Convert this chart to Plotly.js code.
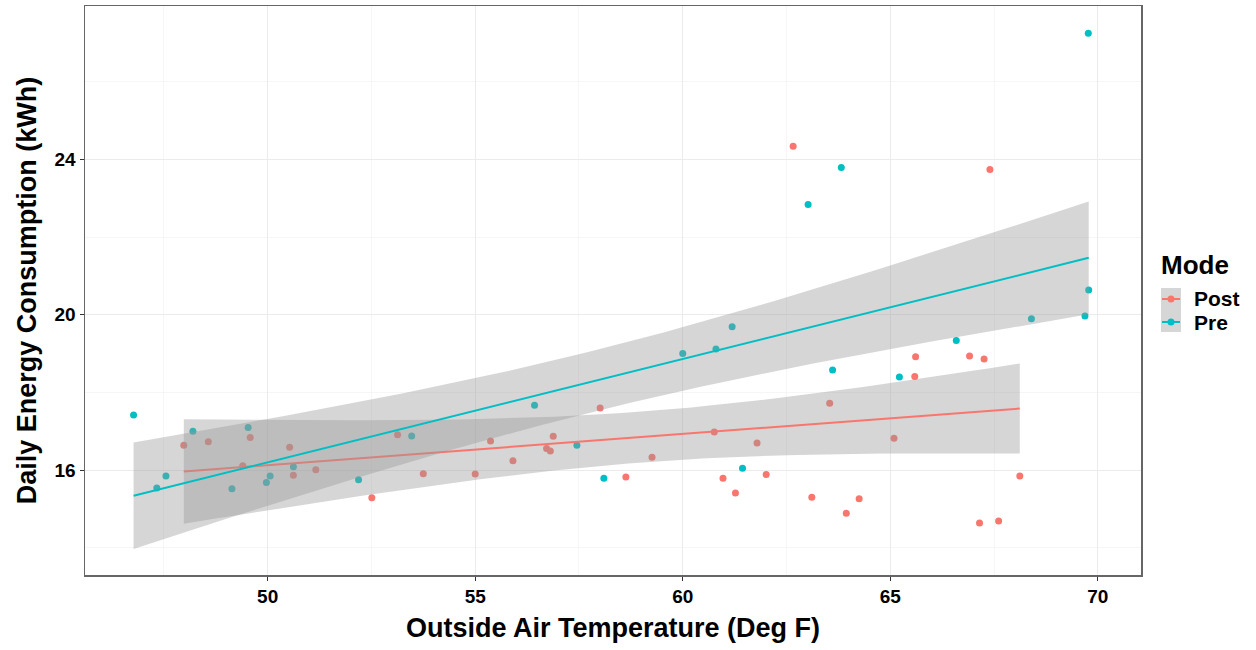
<!DOCTYPE html>
<html><head><meta charset="utf-8">
<script src="https://cdn.plot.ly/plotly-3.0.1.min.js"></script>
<style>html,body{margin:0;padding:0;background:#fff}#chart{width:1256px;height:650px}</style>
</head><body><div id="chart"></div>
<script>
// Post mode observations
const postTemp = [47.98,48.57,49.40,49.58,50.53,50.62,51.16,52.51,53.13,53.75,55.00,55.37,55.91,56.72,56.81,56.88,58.01,58.63,59.26,60.76,60.97,61.27,61.79,62.01,62.66,63.11,63.54,63.94,64.25,65.09,65.59,65.61,66.91,67.15,67.26,67.40,67.61,68.12];
const postKwh  = [16.64,16.73,16.11,16.84,16.59,15.87,16.01,15.29,16.91,15.91,15.90,16.75,16.24,16.56,16.49,16.87,17.60,15.82,16.33,16.98,15.79,15.41,16.70,15.89,24.34,15.30,17.72,14.89,15.26,16.82,18.41,18.92,18.94,14.64,18.86,23.74,14.69,15.85];
// Pre mode observations
const preTemp = [46.77,47.33,47.55,48.20,49.14,49.53,49.97,50.06,50.62,52.19,53.47,56.43,57.45,58.10,60.00,60.80,61.19,61.44,63.02,63.61,63.82,65.22,66.59,68.40,69.69,69.78,69.77];
const preKwh  = [17.42,15.54,15.85,17.00,15.52,17.10,15.68,15.85,16.09,15.75,16.88,17.67,16.64,15.79,19.00,19.12,19.69,16.05,22.84,18.58,23.79,18.40,19.34,19.90,19.97,20.64,27.25];
const modes = ["Post","Pre"];
const xTickVals = [50,55,60,65,70];
const yTickVals = [16,20,24];

const COLORS = {Post:"#F8766D", Pre:"#00BFC4"};
const FONT = "Liberation Sans, Arial, sans-serif";

// linear model fit with 95% confidence band (like geom_smooth(method='lm'))
function lmFit(xs, ys, tcrit){
  const n = xs.length;
  const xm = xs.reduce((a,b)=>a+b,0)/n, ym = ys.reduce((a,b)=>a+b,0)/n;
  let sxx=0, sxy=0;
  for(let i=0;i<n;i++){sxx+=(xs[i]-xm)**2; sxy+=(xs[i]-xm)*(ys[i]-ym);}
  const b = sxy/sxx, a = ym - b*xm;
  let sse=0; for(let i=0;i<n;i++){sse+=(ys[i]-a-b*xs[i])**2;}
  const s = Math.sqrt(sse/(n-2));
  const lo = Math.min(...xs), hi = Math.max(...xs);
  const gx=[], fy=[], up=[], dn=[];
  const m=80;
  for(let k=0;k<m;k++){
    const x = lo + (hi-lo)*k/(m-1);
    const f = a+b*x;
    const se = s*Math.sqrt(1/n + (x-xm)**2/sxx);
    gx.push(x); fy.push(f); up.push(f+tcrit*se); dn.push(f-tcrit*se);
  }
  return {gx, fy, up, dn};
}
const tcrit = {Post:2.028, Pre:2.060};
const data = {Post:[postTemp, postKwh], Pre:[preTemp, preKwh]};

const traces = [];
modes.forEach(md=>{
  traces.push({type:"scatter", mode:"markers", x:data[md][0], y:data[md][1],
    marker:{color:COLORS[md], size:7, line:{width:0}}, showlegend:false, hoverinfo:"x+y"});
});
modes.forEach(md=>{
  const f = lmFit(data[md][0], data[md][1], tcrit[md]);
  traces.push({type:"scatter", mode:"lines", x:f.gx.concat(f.gx.slice().reverse()),
    y:f.up.concat(f.dn.slice().reverse()), fill:"toself", fillcolor:"rgba(153,153,153,0.4)",
    line:{width:0}, showlegend:false, hoverinfo:"skip"});
  traces.push({type:"scatter", mode:"lines", x:f.gx, y:f.fy, line:{color:COLORS[md], width:2},
    showlegend:false, hoverinfo:"skip"});
});

// plot area geometry in pixels
const L=85, R=1141, T=6, B=575;
const px = v => (v-L)/(R-L);
const py = v => (B-v)/(B-T);

const shapes = [
  {type:"rect", xref:"paper", yref:"paper", x0:px(1161), x1:px(1181), y0:py(332), y1:py(288),
   fillcolor:"#d6d6d6", line:{width:0}, layer:"above"}
];
const annotations = [
  {xref:"paper", yref:"paper", x:px(1159), y:py(265), xanchor:"left", yanchor:"middle",
   text:"Mode", showarrow:false, font:{family:FONT, size:26, color:"#000", weight:"bold"}}
];
const keyY = {Post:299, Pre:322};
modes.forEach(md=>{
  shapes.push({type:"line", xref:"paper", yref:"paper", x0:px(1162), x1:px(1180), y0:py(keyY[md]), y1:py(keyY[md]),
    line:{color:COLORS[md], width:2}, layer:"above"});
  shapes.push({type:"circle", xref:"paper", yref:"paper", xsizemode:"pixel", ysizemode:"pixel",
    xanchor:px(1171), yanchor:py(keyY[md]), x0:-3.5, x1:3.5, y0:-3.5, y1:3.5,
    fillcolor:COLORS[md], line:{width:0}, layer:"above"});
  annotations.push({xref:"paper", yref:"paper", x:px(1193), y:py(keyY[md]), xanchor:"left", yanchor:"middle",
    text:md, showarrow:false, borderpad:0, font:{family:FONT, size:21, color:"#000", weight:"bold"}});
});

const layout = {
  width:1256, height:650,
  margin:{l:L, r:1256-R, t:T, b:650-B},
  paper_bgcolor:"#fff", plot_bgcolor:"#fff",
  showlegend:false,
  font:{family:FONT, color:"#000"},
  xaxis:{range:[45.6,71.04], tickvals:xTickVals, ticktext:xTickVals.map(String),
    showgrid:true, gridcolor:"#ebebeb", gridwidth:1.2, zeroline:false,
    minor:{tickvals:[47.5,52.5,57.5,62.5,67.5], showgrid:true, gridcolor:"#f2f2f2", gridwidth:0.7, ticks:""},
    showline:true, mirror:true, linecolor:"#666", linewidth:1.5,
    ticks:"outside", ticklen:4, tickcolor:"#333", tickwidth:1.2,
    tickfont:{family:FONT, size:19, color:"#000", weight:"bold"},
    title:{text:"Outside Air Temperature (Deg F)", standoff:12, font:{family:FONT, size:27, color:"#000", weight:"bold"}}},
  yaxis:{range:[13.3,27.95], tickvals:yTickVals, ticktext:yTickVals.map(String),
    showgrid:true, gridcolor:"#ebebeb", gridwidth:1.2, zeroline:false,
    minor:{tickvals:[14,18,22,26], showgrid:true, gridcolor:"#f2f2f2", gridwidth:0.7, ticks:""},
    showline:true, mirror:true, linecolor:"#666", linewidth:1.5,
    ticks:"outside", ticklen:4, tickcolor:"#333", tickwidth:1.2,
    tickfont:{family:FONT, size:19, color:"#000", weight:"bold"},
    title:{text:"Daily Energy Consumption (kWh)", standoff:10, font:{family:FONT, size:27, color:"#000", weight:"bold"}}},
  shapes, annotations
};
Plotly.newPlot("chart", traces, layout, {displayModeBar:false, staticPlot:true});
</script></body></html>
